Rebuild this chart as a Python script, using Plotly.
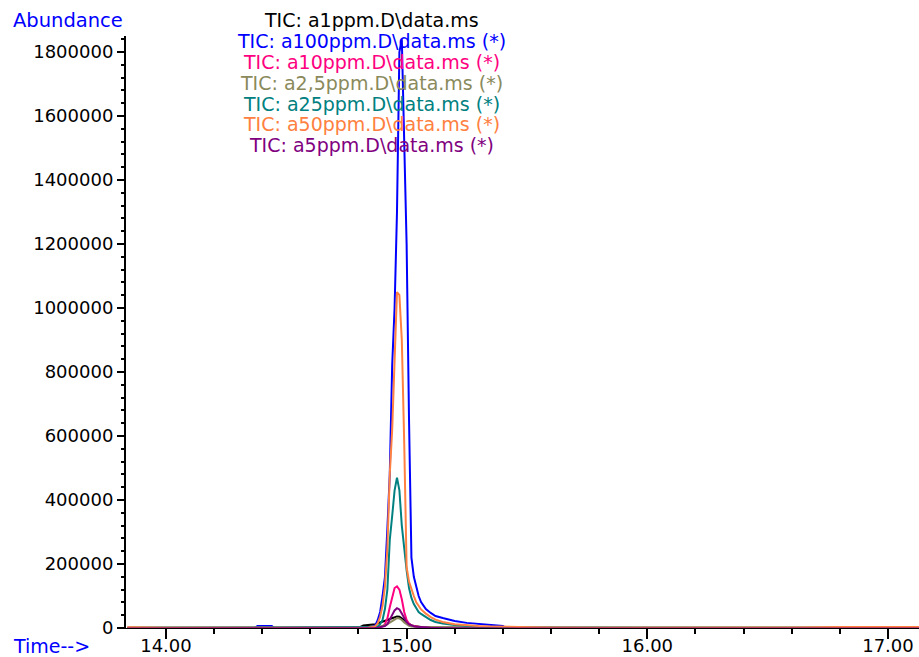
import plotly.graph_objects as go

# Retention time (min) shared by all traces
TIME = [13.84, 14.00, 14.20, 14.37, 14.38, 14.44, 14.45, 14.60, 14.80, 14.82,
        14.84, 14.86, 14.87, 14.88, 14.89, 14.90, 14.91, 14.92, 14.93, 14.94,
        14.95, 14.96, 14.97, 14.98, 14.99, 15.00, 15.01, 15.02, 15.03, 15.04,
        15.05, 15.06, 15.08, 15.10, 15.12, 15.15, 15.20, 15.25, 15.30, 15.35,
        15.40, 15.41, 15.60, 15.80, 16.00, 16.20, 16.40, 16.60, 16.80, 17.00,
        17.13]

A1PPM = [0, 0, 0, 0, 0, 0, 0, 0, 0, 8000,
         9000, 10000, 12000, 15000, 17000, 19000, 22000, 25000, 28000, 31000,
         34000, 36000, 35000, 31000, 25000, 18000, 12000, 8000, 6000, 4500,
         3500, 3000, 2000, 1500, 1000, 800, 600, 500, 400, 300,
         200, 0, 0, 0, 0, 0, 0, 0, 0, 0,
         0]

A100PPM = [0, 0, 0, 0, 6000, 6000, 0, 0, 0, 1000,
           2000, 4000, 8000, 25000, 50000, 100000, 160000, 310000, 480000, 820000,
           1000000, 1300000, 1800000, 1840000, 1500000, 1200000, 650000, 220000, 160000, 125000,
           100000, 81000, 59000, 47000, 37500, 31000, 22000, 16000, 12000, 9000,
           6000, 1000, 0, 0, 0, 0, 0, 0, 0, 0,
           0]

A10PPM = [0, 0, 0, 0, 0, 0, 0, 0, 0, 0,
          0, 500, 1000, 2000, 3000, 5000, 12000, 30000, 65000, 100000,
          125000, 130000, 120000, 90000, 50000, 25000, 13000, 8000, 6000, 5000,
          4000, 3500, 3000, 2000, 1500, 1000, 500, 0, 0, 0,
          0, 0, 0, 0, 0, 0, 0, 0, 0, 0,
          0]

A2_5PPM = [2000, 2000, 2000, 2000, 2000, 2000, 2000, 2000, 2000, 2000,
           2000, 2000, 2500, 3000, 4500, 6000, 9000, 12000, 17000, 23000,
           28000, 31000, 30000, 25000, 17000, 11000, 7000, 5000, 4000, 3500,
           3200, 3000, 2800, 2500, 2300, 2200, 2000, 2000, 2000, 2000,
           2000, 2000, 2000, 2000, 2000, 2000, 2000, 2000, 2000, 2000,
           2000]

A25PPM = [0, 0, 0, 0, 0, 0, 0, 0, 0, 0,
          500, 1000, 2000, 5000, 12000, 25000, 60000, 120000, 275000, 350000,
          430000, 470000, 430000, 320000, 245000, 180000, 125000, 94000, 75000, 62000,
          50000, 44000, 34000, 25000, 19000, 14000, 9000, 6000, 4000, 3000,
          2000, 1000, 0, 0, 0, 0, 0, 0, 0, 0,
          0]

A50PPM = [2000, 0, 0, 0, 0, 0, 0, 0, 0, 0,
          1000, 3000, 6000, 15000, 35000, 70000, 130000, 250000, 480000, 620000,
          840000, 1050000, 1040000, 900000, 580000, 190000, 145000, 120000, 100000, 80000,
          68000, 58000, 45000, 34000, 26000, 19000, 12000, 8000, 6000, 5000,
          4000, 3000, 1000, 0, 0, 0, 0, 1000, 3000, 3000,
          3000]

A5PPM = [-1500, -1500, -1500, -1500, -1500, -1500, -1500, -1500, -1500, -1500,
         -1000, -500, 0, 1000, 2000, 3000, 6000, 12000, 25000, 40000,
         55000, 62000, 58000, 45000, 30000, 18000, 11000, 7000, 5500, 4000,
         3000, 2500, 2000, 1000, 0, -500, -1000, -1500, -1500, -1500,
         -1500, -1500, -1500, -1500, -1500, -1500, -1500, -1500, -1500, -1500,
         -1500]

SERIES = [
    ("TIC: a1ppm.D\\data.ms", A1PPM, "#000000"),
    ("TIC: a100ppm.D\\data.ms (*)", A100PPM, "#0000FF"),
    ("TIC: a10ppm.D\\data.ms (*)", A10PPM, "#FF0080"),
    ("TIC: a2,5ppm.D\\data.ms (*)", A2_5PPM, "#8A8A5C"),
    ("TIC: a25ppm.D\\data.ms (*)", A25PPM, "#008080"),
    ("TIC: a50ppm.D\\data.ms (*)", A50PPM, "#FF8040"),
    ("TIC: a5ppm.D\\data.ms (*)", A5PPM, "#800080"),
]

Y_TICKS = [0, 200000, 400000, 600000, 800000, 1000000, 1200000, 1400000, 1600000, 1800000]
X_TICKS = [14.0, 15.0, 16.0, 17.0]
X_TICK_LABELS = ["14.00", "15.00", "16.00", "17.00"]

FONT = "DejaVu Sans"
W, H = 919, 657
ML, MR, MT, MB = 126, 0, 36, 29
PLOT_H = H - MT - MB
PLOT_W = W - ML - MR

fig = go.Figure()
for name, vals, col in SERIES:
    fig.add_trace(go.Scatter(x=TIME, y=vals, mode="lines", name=name,
                             line=dict(color=col, width=2), showlegend=False))

# legend-like header text
legend_y_px = [20, 41, 62, 83, 104, 124, 145]
for (name, vals, col), ypx in zip(SERIES, legend_y_px):
    fig.add_annotation(text=name, xref="paper", yref="paper",
                       x=(371 - ML) / PLOT_W, y=(H - MB - ypx) / PLOT_H,
                       xanchor="center", yanchor="middle", showarrow=False,
                       font=dict(family=FONT, size=19, color=col))

fig.add_annotation(text="Abundance", xref="paper", yref="paper",
                   x=(11 - ML) / PLOT_W, y=(H - MB - 20) / PLOT_H,
                   xanchor="left", yanchor="middle", showarrow=False,
                   font=dict(family=FONT, size=19.5, color="#0000FF"))
fig.add_annotation(text="Time-->", xref="paper", yref="paper",
                   x=(11 - ML) / PLOT_W, y=(H - MB - 646) / PLOT_H,
                   xanchor="left", yanchor="middle", showarrow=False,
                   font=dict(family=FONT, size=19, color="#0000FF"))

fig.update_layout(
    width=W, height=H,
    margin=dict(l=ML, r=MR, t=MT, b=MB, pad=0, autoexpand=False),
    paper_bgcolor="white", plot_bgcolor="white",
    font=dict(family=FONT, size=18, color="black"),
    xaxis=dict(range=[13.834, 17.129], tickvals=X_TICKS, ticktext=X_TICK_LABELS,
               automargin=False, ticklabelstandoff=-9,
               ticks="outside", ticklen=10, tickwidth=1.5, tickcolor="black",
               showline=True, linecolor="black", linewidth=1,
               showgrid=False, zeroline=False,
               minor=dict(dtick=0.2, tick0=14.0, ticks="outside", ticklen=5,
                          tickwidth=1.5, tickcolor="black", showgrid=False),
               tickfont=dict(family=FONT, size=18, color="black")),
    yaxis=dict(range=[0, 1850000], tickvals=Y_TICKS, tickformat="d",
               automargin=False,
               ticks="outside", ticklen=7, tickwidth=1.5, tickcolor="black",
               showline=True, linecolor="black", linewidth=2,
               showgrid=False, zeroline=False,
               minor=dict(dtick=40000, tick0=0, ticks="outside", ticklen=3,
                          tickwidth=1.5, tickcolor="black", showgrid=False),
               tickfont=dict(family=FONT, size=18, color="black")),
)

fig.write_html("out.html")
